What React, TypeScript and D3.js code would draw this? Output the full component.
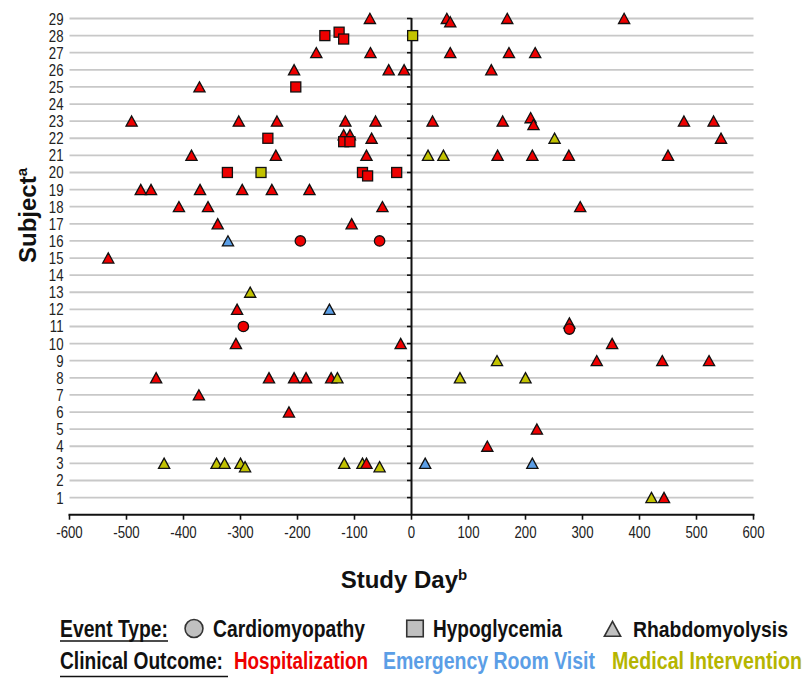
import React, { useLayoutEffect, useRef, useState } from 'react';
import * as d3 from 'd3';

// Event list, one entry per marker (parallel arrays)
const eventDay = [
  -73, 62, 68, 168, 373,
  -152, -127, -119, 2,
  -167, -72, 68, 171, 217,
  -206, -40, -13, 140,
  -372, -203,
  -491, -303, -236, -116, -63, 37, 160, 209, 214, 478, 530,
  -252, -119, -108, -119, -108, -70, 251, 543,
  -386, -238, -79, 29, 56, 151, 212, 276, 450,
  -323, -264, -86, -77, -26,
  -475, -457, -371, -297, -245, -179,
  -408, -357, -51, 296,
  -340, -105,
  -322, -195, -56,
  -532,
  -283,
  -306, -144,
  -295, 277, 277,
  -308, -19, 352,
  150, 325, 440, 522,
  -448, -250, -206, -185, -141, -130, 85, 200,
  -373,
  -215,
  220,
  133,
  -434, -342, -328, -300, -292, -118, -86, -79, -56, 24, 212,
  421, 443,
];
const eventSubject = [
  29, 29, 28.8, 29, 29,
  28, 28.2, 27.8, 28,
  27, 27, 27, 27, 27,
  26, 26, 26, 26,
  25, 25,
  23, 23, 23, 23, 23, 23, 23, 23.2, 22.8, 23, 23,
  22, 22.2, 22.2, 21.8, 21.8, 22, 22, 22,
  21, 21, 21, 21, 21, 21, 21, 21, 21,
  20, 20, 20, 19.8, 20,
  19, 19, 19, 19, 19, 19,
  18, 18, 18, 18,
  17, 17,
  16, 16, 16,
  15,
  13,
  12, 12,
  11, 11.2, 10.85,
  10, 10, 10,
  9, 9, 9, 9,
  8, 8, 8, 8, 8, 8, 8, 8,
  7,
  6,
  5,
  4,
  3, 3, 3, 3, 2.8, 3, 3, 3, 2.8, 3, 3,
  1, 1,
];
// C = cardiomyopathy, H = hypoglycemia, R = rhabdomyolysis
const eventType = [
  'R', 'R', 'R', 'R', 'R',
  'H', 'H', 'H', 'H',
  'R', 'R', 'R', 'R', 'R',
  'R', 'R', 'R', 'R',
  'R', 'H',
  'R', 'R', 'R', 'R', 'R', 'R', 'R', 'R', 'R', 'R', 'R',
  'H', 'R', 'R', 'H', 'H', 'R', 'R', 'R',
  'R', 'R', 'R', 'R', 'R', 'R', 'R', 'R', 'R',
  'H', 'H', 'H', 'H', 'H',
  'R', 'R', 'R', 'R', 'R', 'R',
  'R', 'R', 'R', 'R',
  'R', 'R',
  'R', 'C', 'C',
  'R',
  'R',
  'R', 'R',
  'C', 'R', 'C',
  'R', 'R', 'R',
  'R', 'R', 'R', 'R',
  'R', 'R', 'R', 'R', 'R', 'R', 'R', 'R',
  'R',
  'R',
  'R',
  'R',
  'R', 'R', 'R', 'R', 'R', 'R', 'R', 'R', 'R', 'R', 'R',
  'R', 'R',
];
// h = hospitalization, e = emergency room visit, m = medical intervention
const eventOutcome = [
  'h', 'h', 'h', 'h', 'h',
  'h', 'h', 'h', 'm',
  'h', 'h', 'h', 'h', 'h',
  'h', 'h', 'h', 'h',
  'h', 'h',
  'h', 'h', 'h', 'h', 'h', 'h', 'h', 'h', 'h', 'h', 'h',
  'h', 'h', 'h', 'h', 'h', 'h', 'm', 'h',
  'h', 'h', 'h', 'm', 'm', 'h', 'h', 'h', 'h',
  'h', 'm', 'h', 'h', 'h',
  'h', 'h', 'h', 'h', 'h', 'h',
  'h', 'h', 'h', 'h',
  'h', 'h',
  'e', 'h', 'h',
  'h',
  'm',
  'h', 'e',
  'h', 'h', 'h',
  'h', 'h', 'h',
  'm', 'h', 'h', 'h',
  'h', 'h', 'h', 'h', 'h', 'm', 'm', 'm',
  'h',
  'h',
  'h',
  'h',
  'm', 'm', 'm', 'm', 'm', 'm', 'm', 'h', 'm', 'e', 'e',
  'm', 'h',
];

const xTicks = [-600, -500, -400, -300, -200, -100, 0, 100, 200, 300, 400, 500, 600];
const yTicks = d3.range(1, 30);

const outcomeColor: Record<string, string> = { h: '#ee0000', e: '#5b9ee6', m: '#c2c200' };
const FONT = '"Liberation Sans", Arial, sans-serif';

function Marker({ type, x, y, fill, size = 1, stroke = '#111', sw = 1.3 }: any) {
  if (type === 'C') return <circle cx={x} cy={y} r={5.2 * size} fill={fill} stroke={stroke} strokeWidth={sw} />;
  if (type === 'H') {
    const s = 10 * size;
    return <rect x={x - s / 2} y={y - s / 2} width={s} height={s} fill={fill} stroke={stroke} strokeWidth={sw} />;
  }
  const w = 5.6 * size, t = 5.2 * size, b = 5 * size;
  return <path d={`M${x},${y - t}L${x + w},${y + b}L${x - w},${y + b}Z`} fill={fill} stroke={stroke} strokeWidth={sw} strokeLinejoin="miter" />;
}

// legend text squeezed horizontally to a target width (the source font is condensed)
function FitText({ x, y, width, fill = '#111', children }: any) {
  const ref = useRef<SVGTextElement | null>(null);
  const [sx, setSx] = useState(0.82);
  useLayoutEffect(() => {
    if (!ref.current) return;
    const w = ref.current.getComputedTextLength();
    if (w > 0) setSx(width / w);
  }, [width]);
  return (
    <text ref={ref} transform={`translate(${x},${y}) scale(${sx},1)`} fontSize={23} fontWeight="bold" fill={fill}>
      {children}
    </text>
  );
}

export default function App() {
  const x = d3.scaleLinear().domain([-600, 600]).range([69.5, 753.5]);
  const y = d3.scaleLinear().domain([0, 29]).range([514.7, 18.5]);

  return (
    <svg width={805} height={678} style={{ position: 'absolute', left: 0, top: 0, background: '#fff' }} fontFamily={FONT}>
      {/* grid */}
      {yTicks.map(t => (
        <line key={'g' + t} x1={x(-600)} x2={x(600)} y1={y(t)} y2={y(t)} stroke="#c8c8c8" strokeWidth={1.8} />
      ))}
      {/* y tick labels */}
      {yTicks.map(t => (
        <text key={'yl' + t} transform={`translate(63.5,${y(t) + 6}) scale(0.8,1)`} textAnchor="end" fontSize={16.5} fill="#222">{t}</text>
      ))}
      {/* y axis at day 0 */}
      <line x1={x(0)} x2={x(0)} y1={y(29) - 0.5} y2={y(0)} stroke="#111" strokeWidth={2} />
      {yTicks.map(t => (
        <line key={'yt' + t} x1={x(0) - 4.5} x2={x(0)} y1={y(t)} y2={y(t)} stroke="#111" strokeWidth={1.6} />
      ))}
      {/* x axis */}
      <line x1={x(-600) - 1} x2={x(600) + 1} y1={y(0)} y2={y(0)} stroke="#111" strokeWidth={2} />
      {xTicks.map(t => (
        <g key={'xt' + t}>
          <line x1={x(t)} x2={x(t)} y1={y(0)} y2={y(0) + 5} stroke="#111" strokeWidth={1.6} />
          <text transform={`translate(${x(t)},538) scale(0.8,1)`} textAnchor="middle" fontSize={16.5} fill="#222">{t}</text>
        </g>
      ))}
      {/* events */}
      {eventDay.map((d, i) => (
        <Marker key={'m' + i} type={eventType[i]} x={x(d)} y={y(eventSubject[i])} fill={outcomeColor[eventOutcome[i]]} />
      ))}
      {/* axis titles */}
      <text transform="translate(36,263) rotate(-90)" fontSize={24} fontWeight="bold" fill="#111">
        Subject<tspan fontSize={15} dy={-9}>a</tspan>
      </text>
      <text x={340.7} y={588} fontSize={24} fontWeight="bold" fill="#111">
        Study Day<tspan fontSize={15} dy={-8}>b</tspan>
      </text>
      {/* legend: event type */}
      <FitText x={60} y={637} width={108}>Event Type:</FitText>
      <line x1={60} x2={168} y1={641} y2={641} stroke="#111" strokeWidth={1.6} />
      <Marker type="C" x={194} y={628.5} size={1.72} fill="#c0c0c0" stroke="#333" sw={1.6} />
      <FitText x={213} y={637} width={152}>Cardiomyopathy</FitText>
      <Marker type="H" x={415} y={628.5} size={1.65} fill="#c0c0c0" stroke="#333" sw={1.6} />
      <FitText x={433} y={637} width={129}>Hypoglycemia</FitText>
      <Marker type="R" x={612.5} y={629} size={1.45} fill="#c0c0c0" stroke="#333" sw={1.6} />
      <FitText x={633} y={637} width={155}>Rhabdomyolysis</FitText>
      {/* legend: clinical outcome */}
      <FitText x={60} y={669} width={163}>Clinical Outcome:</FitText>
      <line x1={60} x2={228} y1={676.5} y2={676.5} stroke="#111" strokeWidth={1.6} />
      <FitText x={234} y={669} width={134} fill={outcomeColor.h}>Hospitalization</FitText>
      <FitText x={383} y={669} width={212} fill={outcomeColor.e}>Emergency Room Visit</FitText>
      <FitText x={612} y={669} width={190} fill="#b5b500">Medical Intervention</FitText>
    </svg>
  );
}
